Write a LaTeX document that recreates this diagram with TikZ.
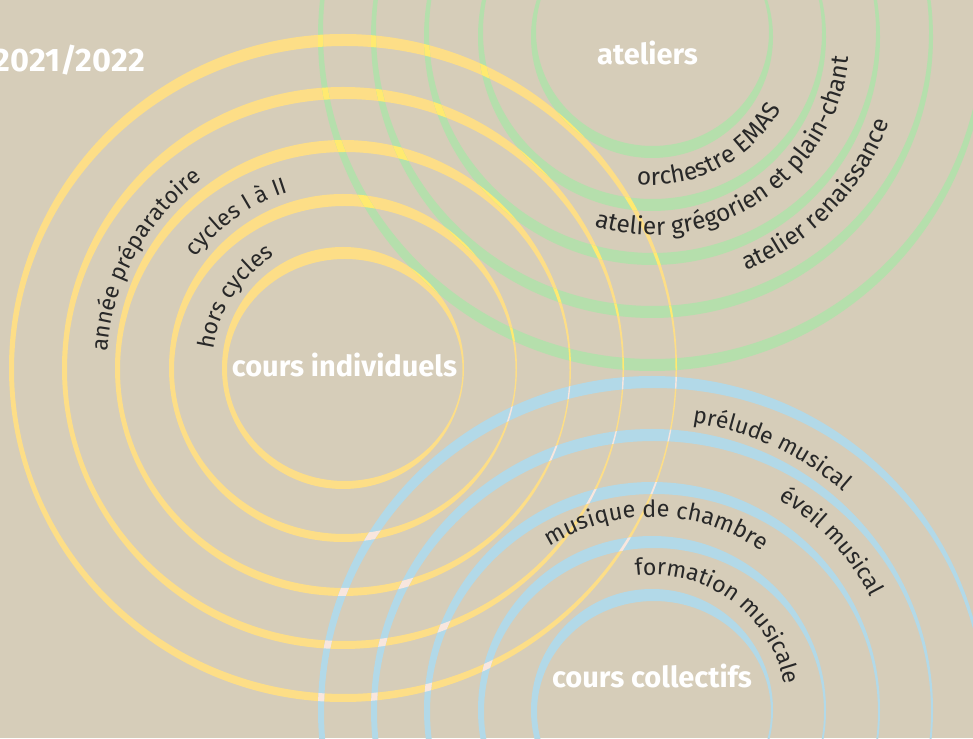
\documentclass[tikz,border=0pt]{standalone}
\usepackage{fontspec}
\setmainfont{Fira Sans}
\usetikzlibrary{decorations.text}

\definecolor{bg}{RGB}{214,205,185}
\definecolor{yel}{RGB}{253,222,135}
\definecolor{grn}{RGB}{181,223,172}
\definecolor{blu}{RGB}{178,217,232}
\definecolor{yelgrn}{RGB}{255,234,112}
\definecolor{yelblu}{RGB}{248,230,222}
\definecolor{ink}{RGB}{40,40,40}

% five rings round #1: outer circle, inner ellipse shifted by (#2,#3), shrunk by #4 and #5
\newcommand{\ringset}[5]{foreach \rad in {121,174,228,281,334}{(#1) circle[radius=\rad] ([shift={(#2,#3)}]#1) ellipse[x radius={\rad-#4}, y radius={\rad-#5}]}}

\tikzset{
	title/.style={text=white, font=\bfseries\fontsize{29}{29}\selectfont, inner sep=0pt},
	curved/.style 2 args={decorate, decoration={text along path, text align=left, text color=ink,
		text={|\fontsize{#1}{#1}\selectfont|#2}}}
}

\begin{document}
\begin{tikzpicture}[x=1pt,y=1pt]
	\useasboundingbox (0,0) rectangle (973,738);
	\clip (0,0) rectangle (973,738);
	\fill[bg] (0,0) rectangle (973,738);

	\coordinate (yc) at (343,370);
	\coordinate (gc) at (652,701);
	\coordinate (bc) at (652,28);

	\fill[yel, even odd rule] \ringset{yc}{1.75}{-2}{3.25}{10};
	\fill[grn, even odd rule] \ringset{gc}{0.5}{5}{4.5}{7};
	\fill[blu, even odd rule] \ringset{bc}{2}{-2}{4}{10};
	\begin{scope}[even odd rule]
		\clip \ringset{yc}{1.75}{-2}{3.25}{10};
		\fill[yelgrn] \ringset{gc}{0.5}{5}{4.5}{7};
		\fill[yelblu] \ringset{bc}{2}{-2}{4}{10};
	\end{scope}

	\node[title, font=\bfseries\fontsize{32.5}{32.5}\selectfont, anchor=base east] (year) at (145,666) {2021/2022};
	\node[title, anchor=base] (indiv) at (344.5,361) {cours individuels};
	\node[title, anchor=base] (ateliers) at (647.5,673) {ateliers};
	\node[title, anchor=base] (collectifs) at (652,50) {cours collectifs};

	% individuels
	\path[curved={23}{hors cycles}] ([shift={(172:131)}]yc) arc[start angle=172, end angle=60, radius=131];
	\path[curved={23}{cycles I à II}] ([shift={(143:184)}]yc) arc[start angle=143, end angle=40, radius=184];
	\path[curved={23}{année préparatoire}] ([shift={(176:236)}]yc) arc[start angle=176, end angle=60, radius=236];

	% ateliers
	\path[curved={24.5}{orchestre EMAS}] ([shift={(264:148)}]gc) arc[start angle=264, end angle=380, radius=148];
	\path[curved={24.5}{atelier grégorien et plain-chant}] ([shift={(253:198)}]gc) arc[start angle=253, end angle=400, radius=198];
	\path[curved={24.5}{atelier renaissance}] ([shift={(292:252)}]gc) arc[start angle=292, end angle=400, radius=252];

	% collectifs
	\path[curved={23}{formation musicale}] ([shift={(97:135)}]bc) arc[start angle=97, end angle=-40, radius=135];
	\path[curved={23.5}{musique de chambre}] ([shift={(122:193)}]bc) arc[start angle=122, end angle=0, radius=193];
	\path[curved={23}{éveil musical}] ([shift={(59:246)}]bc) arc[start angle=59, end angle=-20, radius=246];
	\path[curved={23}{prélude musical}] ([shift={(82:290)}]bc) arc[start angle=82, end angle=0, radius=290];
\end{tikzpicture}
\end{document}
